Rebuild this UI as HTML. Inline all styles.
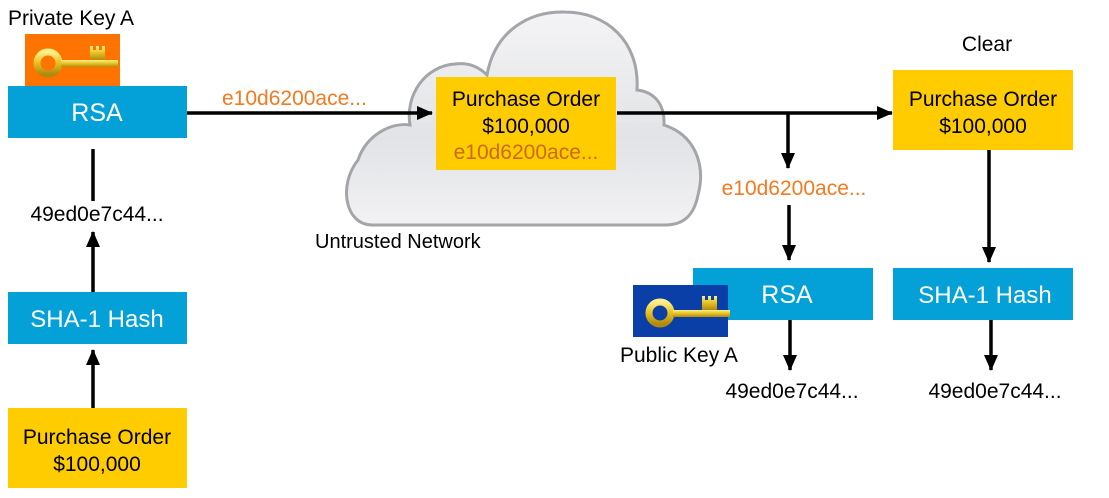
<!DOCTYPE html>
<html><head><meta charset="utf-8"><style>
html,body{margin:0;padding:0;background:#fff;}
svg{display:block;font-family:"Liberation Sans",Arial,sans-serif;}
</style></head><body>
<svg width="1109" height="498" viewBox="0 0 1109 498" xmlns="http://www.w3.org/2000/svg">
<defs>
<linearGradient id="cg" x1="0" y1="0" x2="0" y2="1">
<stop offset="0" stop-color="#f4f4f6"/><stop offset="0.6" stop-color="#e2e3e6"/><stop offset="1" stop-color="#f2f2f4"/>
</linearGradient>
<linearGradient id="gold" x1="0" y1="0" x2="0" y2="1">
<stop offset="0" stop-color="#fff08a"/><stop offset="0.5" stop-color="#e8c020"/><stop offset="1" stop-color="#b08a10"/>
</linearGradient>
<marker id="ah" markerWidth="16" markerHeight="16" refX="15" refY="8" orient="auto" markerUnits="userSpaceOnUse">
<path d="M0,1 L16,8 L0,15 Z" fill="#000"/>
</marker>
<g id="key">
<circle cx="0" cy="0" r="11" fill="none" stroke="url(#gold)" stroke-width="7"/>
<rect x="13" y="-3" width="57" height="7" fill="url(#gold)"/>
<path d="M42,-3 L42,-17 L45,-17 L45,-13 L48,-13 L48,-17 L51,-17 L51,-13 L54,-13 L54,-17 L57,-17 L57,-3 Z" fill="url(#gold)"/>
</g>
</defs>

<!-- Cloud -->
<path d="M372 225 C345 225 338 185 358 160 C366 136 390 122 410 125 C405 95 425 66 455 64 C470 62 480 68 487 75 C495 30 530 11 565 12 C605 12 640 40 637 90 C655 92 665 105 664 125 C695 135 706 165 698 195 C694 215 684 225 665 225 Z" fill="url(#cg)" stroke="#a4a5a9" stroke-width="3"/>
<text x="315" y="248" font-size="20" fill="#000">Untrusted Network</text>

<!-- Left column -->
<text x="8" y="25" font-size="21" fill="#000">Private Key A</text>
<rect x="25" y="34" width="95" height="52" fill="#ff7300"/>
<use href="#key" x="48" y="63"/>
<rect x="8" y="86" width="179" height="52" fill="#04a0d8"/>
<text x="97" y="121" font-size="25" fill="#fff" text-anchor="middle">RSA</text>
<line x1="93" y1="149" x2="93" y2="201" stroke="#000" stroke-width="3.5"/>
<text x="97" y="221" font-size="21" fill="#000" text-anchor="middle">49ed0e7c44...</text>
<line x1="93" y1="292" x2="93" y2="232" stroke="#000" stroke-width="3.5" marker-end="url(#ah)"/>
<rect x="8" y="292" width="179" height="52" fill="#04a0d8"/>
<text x="97" y="327" font-size="24" fill="#fff" text-anchor="middle">SHA-1 Hash</text>
<line x1="93" y1="408" x2="93" y2="350" stroke="#000" stroke-width="3.5" marker-end="url(#ah)"/>
<rect x="8" y="408" width="179" height="80" fill="#ffcc00"/>
<text x="97" y="444" font-size="21" fill="#000" text-anchor="middle">Purchase Order</text>
<text x="97" y="471" font-size="21" fill="#000" text-anchor="middle">$100,000</text>

<!-- arrow to cloud -->
<line x1="187" y1="113" x2="432" y2="113" stroke="#000" stroke-width="3.5" marker-end="url(#ah)"/>
<text x="222" y="105" font-size="21" fill="#f47a20">e10d6200ace...</text>

<!-- cloud PO -->
<rect x="436" y="77" width="180" height="93" fill="#ffcc00"/>
<text x="526" y="106" font-size="21" fill="#000" text-anchor="middle">Purchase Order</text>
<text x="526" y="133" font-size="21" fill="#000" text-anchor="middle">$100,000</text>
<text x="526" y="159" font-size="21" fill="#cc6a10" text-anchor="middle">e10d6200ace...</text>

<!-- to right -->
<line x1="617" y1="113" x2="892" y2="113" stroke="#000" stroke-width="3.5" marker-end="url(#ah)"/>
<line x1="788" y1="113" x2="788" y2="168" stroke="#000" stroke-width="3.5" marker-end="url(#ah)"/>
<text x="794" y="195" font-size="21" fill="#f47a20" text-anchor="middle">e10d6200ace...</text>
<line x1="789" y1="205" x2="789" y2="260" stroke="#000" stroke-width="3.5" marker-end="url(#ah)"/>
<rect x="693" y="268" width="180" height="52" fill="#04a0d8"/>
<text x="787" y="303" font-size="25" fill="#fff" text-anchor="middle">RSA</text>
<rect x="633" y="285" width="95" height="52" fill="#0a3fa8"/>
<use href="#key" x="660" y="313"/>
<text x="620" y="362" font-size="21" fill="#000">Public Key A</text>
<line x1="790" y1="320" x2="790" y2="370" stroke="#000" stroke-width="3.5" marker-end="url(#ah)"/>
<text x="792" y="398" font-size="21" fill="#000" text-anchor="middle">49ed0e7c44...</text>

<!-- right column -->
<text x="987" y="51" font-size="21" fill="#000" text-anchor="middle">Clear</text>
<rect x="893" y="70" width="180" height="80" fill="#ffcc00"/>
<text x="983" y="106" font-size="21" fill="#000" text-anchor="middle">Purchase Order</text>
<text x="983" y="133" font-size="21" fill="#000" text-anchor="middle">$100,000</text>
<line x1="989" y1="150" x2="989" y2="262" stroke="#000" stroke-width="3.5" marker-end="url(#ah)"/>
<rect x="893" y="268" width="180" height="52" fill="#04a0d8"/>
<text x="985" y="303" font-size="24" fill="#fff" text-anchor="middle">SHA-1 Hash</text>
<line x1="991" y1="320" x2="991" y2="370" stroke="#000" stroke-width="3.5" marker-end="url(#ah)"/>
<text x="995" y="398" font-size="21" fill="#000" text-anchor="middle">49ed0e7c44...</text>
</svg>
</body></html>
